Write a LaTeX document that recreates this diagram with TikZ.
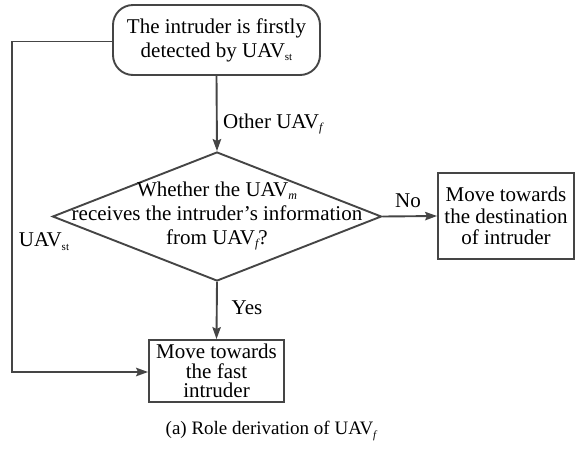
\documentclass[tikz,border=0pt]{standalone}
\usepackage{fontspec}
\setmainfont{Liberation Serif}
\usetikzlibrary{shapes.geometric,arrows.meta}
\definecolor{ln}{HTML}{454545}
\newcommand{\subup}[1]{\raisebox{-0.4ex}{\fontsize{11}{11}\selectfont #1}}
\newcommand{\subit}[1]{\raisebox{-0.4ex}{\fontsize{12}{12}\selectfont\itshape #1}}
\begin{document}
\begin{tikzpicture}[x=1pt,y=-1pt,
  every node/.style={font=\fontsize{21}{24}\selectfont, text=black},
  conn/.style={draw=ln, line width=1.9pt, -{Stealth[length=12pt,width=8.5pt,inset=2pt]}},
  boxstyle/.style={draw=ln, line width=1.9pt, inner sep=0pt, align=center},
  lbl/.style={inner sep=0pt}]
\useasboundingbox (0,0) rectangle (576,448);
\node[boxstyle, rounded corners=20pt, minimum width=207pt, minimum height=70pt] (top) at (216.5,40)
  {The intruder is firstly\\detected by UAV\subup{st}};
\node[draw=ln, line width=1.9pt, diamond, aspect=2.55, minimum width=329pt, minimum height=129pt, inner sep=0pt] (dec) at (217,216.5) {};
\node[align=center, inner sep=0pt, font=\fontsize{21}{24}\selectfont] (dectext) at (217,216)
  {Whether the UAV\subit{m}\\receives the intruder's information\\from UAV\subit{f}?};
\node[boxstyle, minimum width=136pt, minimum height=86pt, font=\fontsize{21}{21.5}\selectfont] (right) at (506,216)
  {Move towards\\the destination\\of intruder};
\node[boxstyle, minimum width=135pt, minimum height=62pt, font=\fontsize{21}{19.5}\selectfont] (bot) at (216.5,371)
  {Move towards\\the fast\\intruder};
\coordinate (lt) at (12,41.5);
\coordinate (lb) at (12,372);
\draw[conn] (top.south) -- (dec.north);
\draw[conn] (dec.east) -- (right.west);
\draw[conn] (dec.south) -- (bot.north);
\draw[conn] (top.west |- lt) -- (lt) -- (lb) -- (lb -| bot.west);
\node[lbl, anchor=west] (lother) at (223,124) {Other UAV\subit{f}};
\node[lbl] (lno) at (408,201) {No};
\node[lbl] (lyes) at (247,308) {Yes};
\node[lbl] (lst) at (44,242) {UAV\subup{st}};
\node[lbl, font=\fontsize{19}{21}\selectfont] (cap) at (271,431) {(a) Role derivation of UAV\raisebox{-0.4ex}{\fontsize{11}{11}\selectfont\itshape f}};
\end{tikzpicture}
\end{document}
